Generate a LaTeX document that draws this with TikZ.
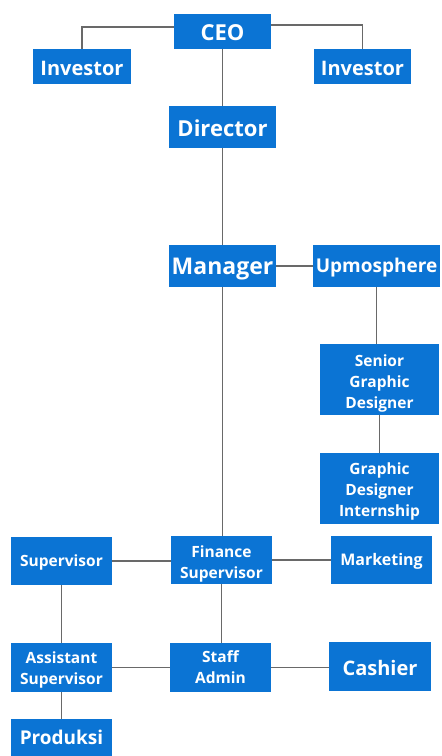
\documentclass[tikz,border=0pt]{standalone}
\usepackage{fontspec}
\setmainfont{Open Sans}
\definecolor{boxblue}{RGB}{11,116,212}
\definecolor{linegray}{RGB}{105,105,105}
\tikzset{
  orgbox/.style={fill=boxblue, draw=none, inner sep=0pt},
  orgtext/.style={text=white, inner sep=0pt, align=center,
    font=\bfseries\fontsize{#1}{21}\selectfont},
  orgtext/.default=16,
  link/.style={draw=linegray, line width=1.4pt}
}
\newcommand{\orgnode}[8]{% name, cx, cy, w, h, size, text, text shift down
  \node[orgbox, minimum width=#4pt, minimum height=#5pt] (#1) at (#2,#3) {};
  \node[orgtext=#6] (#1-t) at ([yshift=-#8pt]#1.center) {#7};}
\begin{document}
\begin{tikzpicture}[x=1pt,y=-1pt]
\useasboundingbox (0,0) rectangle (442,756);
\clip (0,0) rectangle (442,756);
\fill[white] (0,0) rectangle (442,756);
\orgnode{ceo}{222.5}{31.5}{97}{35}{22}{CEO}{1}
\orgnode{invl}{82}{66.5}{98}{35}{20}{Investor}{1.5}
\orgnode{invr}{362.5}{66.5}{97}{35}{20}{Investor}{1.5}
\orgnode{dir}{222.5}{127}{107}{42}{22}{Director}{1}
\orgnode{man}{222.5}{266}{107}{42}{23}{Manager}{3.5}
\orgnode{upm}{376.5}{266}{127}{42}{19}{Upmosphere}{2}
\orgnode{sgd}{379.5}{379.5}{119}{71}{15.5}{Senior\\Graphic\\Designer}{3.5}
\orgnode{gdi}{379.5}{488.5}{119}{71}{15.5}{Graphic\\Designer\\Internship}{3}
\orgnode{sup}{61.5}{561}{101}{48}{15.5}{Supervisor}{1.5}
\orgnode{fin}{221.5}{560}{101}{48}{15.5}{Finance\\Supervisor}{3.5}
\orgnode{mkt}{381.5}{560}{101}{48}{16}{Marketing}{1}
\orgnode{asst}{61.5}{667.5}{101}{49}{15.5}{Assistant\\Supervisor}{2}
\orgnode{staff}{220.5}{667.5}{101}{49}{15.5}{Staff\\Admin}{0}
\orgnode{cash}{380}{666.5}{102}{49}{20}{Cashier}{1}
\orgnode{prod}{61.5}{739}{101}{40}{19}{Produksi}{-1.5}
% connectors
\draw[link] ([yshift=4.5pt]ceo.west) -| (invl.north);
\draw[link] ([yshift=6.5pt]ceo.east) -| (invr.north);
\draw[link] (ceo.south) -- (dir.north);
\draw[link] (dir.south) -- (man.north);
\draw[link] (man.east) -- (upm.west);
\draw[link] (man.south) -- (man.south |- fin.north);
\draw[link] (upm.south) -- (upm.south |- sgd.north);
\draw[link] (sgd.south) -- (gdi.north);
\draw[link] (sup.east) -- (sup.east -| fin.west);
\draw[link] (fin.east) -- (mkt.west);
\draw[link] (fin.south) -- (fin.south |- staff.north);
\draw[link] (sup.south) -- (asst.north);
\draw[link] (asst.east) -- (staff.west);
\draw[link] (staff.east) -- (staff.east -| cash.west);
\draw[link] (asst.south) -- (prod.north);
\end{tikzpicture}
\end{document}
